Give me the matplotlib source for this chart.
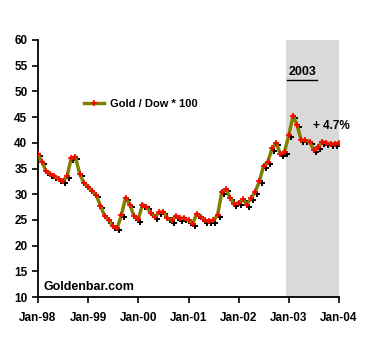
import matplotlib
matplotlib.use("Agg")

import matplotlib.pyplot as plt
import matplotlib.transforms as mtransforms
import pandas as pd

# monthly Gold / Dow * 100, Jan-98 .. Jan-04
ratio = [37.8, 36.3, 34.5, 33.9, 33.6, 33.0, 32.5, 33.5, 37.0, 37.3, 34.0, 32.2,
         31.5, 30.6, 29.8, 27.8, 25.8, 24.9, 23.8, 23.4, 26.0, 29.3, 28.0, 25.8,
         25.1, 28.0, 27.6, 26.3, 25.6, 26.5, 26.6, 25.4, 24.9, 25.8, 25.3, 25.4,
         24.9, 24.3, 26.2, 25.6, 24.9, 24.8, 24.9, 26.0, 30.5, 31.0, 29.2, 28.2,
         28.3, 29.0, 28.0, 29.2, 30.5, 32.5, 35.5, 36.3, 38.9, 40.0, 37.8, 38.3,
         41.5, 45.3, 43.5, 40.5, 40.5, 40.2, 38.6, 39.2, 40.2, 40.0, 39.8, 39.8,
         40.0]
dates = pd.date_range("1998-01-01", periods=len(ratio), freq="MS")

tick_dates = pd.date_range("1998-01-01", "2004-01-01", freq="YS")
tick_labels = ["Jan-98", "Jan-99", "Jan-00", "Jan-01", "Jan-02", "Jan-03", "Jan-04"]
yticks = list(range(10, 61, 5))

plt.rcParams["font.family"] = ["Liberation Sans", "DejaVu Sans"]
plt.rcParams["font.weight"] = "bold"

fig = plt.figure(figsize=(3.75, 3.5), dpi=100)
ax = fig.add_axes([0.101, 0.151, 0.803, 0.735])

# 2003 shaded area
ax.axvspan(pd.Timestamp("2002-12-08"), pd.Timestamp("2004-01-01"),
           color="#d9d9d9", lw=0, zorder=0)

# black shadow markers
shadow = mtransforms.offset_copy(ax.transData, fig=fig, x=1.5, y=-1.5, units="points")
ax.plot(dates, ratio, ls="none", marker="+", ms=4, mew=1.4, color="black",
        transform=shadow, zorder=2)
line, = ax.plot(dates, ratio, color="#808000", lw=2.5, marker="+", ms=4, mew=1.2,
                mec="red", mfc="green", zorder=3)

ax.set_ylim(10, 60)
ax.set_xlim(pd.Timestamp("1998-01-01"), pd.Timestamp("2004-01-01"))
ax.set_yticks(yticks)
ax.set_xticks(tick_dates)
ax.set_xticklabels(tick_labels)
ax.tick_params(labelsize=8.5, width=1.2, length=4, direction="out")
ax.tick_params(axis="x", pad=7)
for s in ["top", "right"]:
    ax.spines[s].set_visible(False)
for s in ["left", "bottom"]:
    ax.spines[s].set_linewidth(1.3)

leg = ax.legend([line], ["Gold / Dow * 100"], loc="upper left",
                bbox_to_anchor=(0.12, 0.81), frameon=False,
                prop={"size": 8, "weight": "bold"}, handlelength=1.8,
                handletextpad=0.5)

ax.text(0.878, 0.875, "2003", transform=ax.transAxes, fontsize=9,
        fontweight="bold", ha="center", va="center")
ax.plot([0.828, 0.928], [0.845, 0.845], transform=ax.transAxes, color="black",
        lw=1.0, clip_on=False)
ax.text(0.915, 0.665, "+ 4.7%", transform=ax.transAxes, fontsize=8.5,
        fontweight="bold", ha="left", va="center", clip_on=False)
ax.text(0.02, 0.04, "Goldenbar.com", transform=ax.transAxes, fontsize=9,
        fontweight="bold", ha="left", va="center")

fig.savefig("out.png", dpi=100)
